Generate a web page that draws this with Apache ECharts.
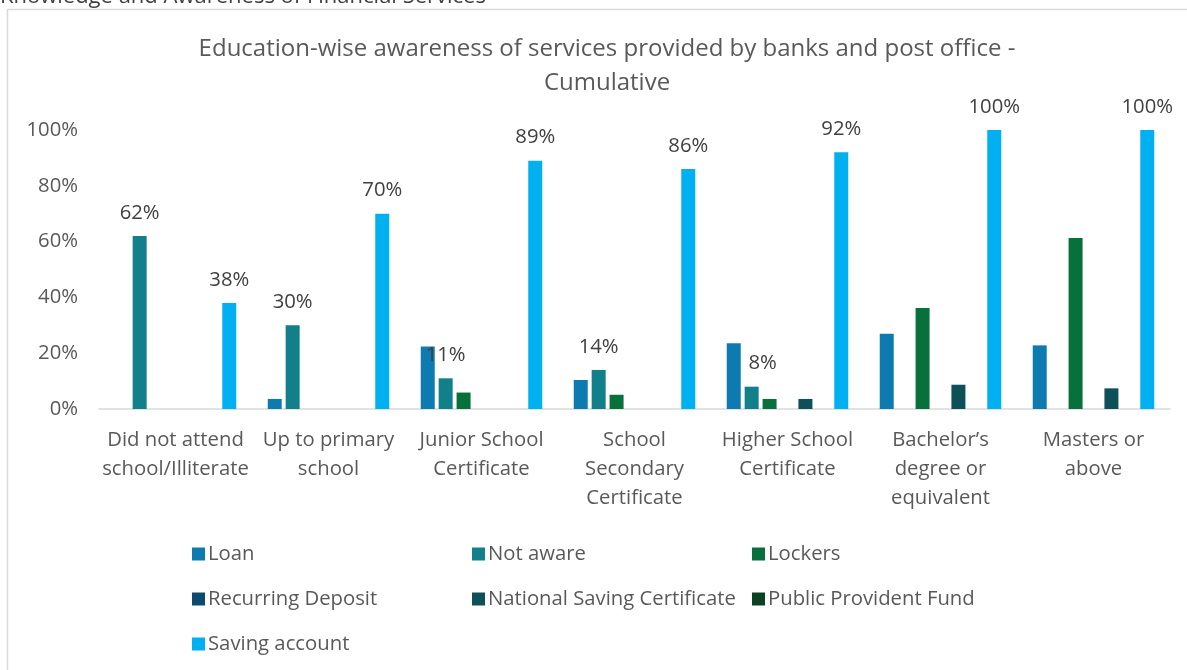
<!DOCTYPE html>
<html>
<head>
<meta charset="utf-8">
<title>Education-wise awareness of services</title>
<script src="https://cdn.jsdelivr.net/npm/echarts@6/dist/echarts.min.js"></script>
<style>
  html, body { margin: 0; padding: 0; background: #ffffff; }
  #chart { width: 1187px; height: 670px; }
</style>
</head>
<body>
<div id="chart"></div>
<script>
// Education levels (x-axis categories)
const categories = [
  'Did not attend\nschool/Illiterate',
  'Up to primary\nschool',
  'Junior School\nCertificate',
  'School\nSecondary\nCertificate',
  'Higher School\nCertificate',
  'Bachelor\u2019s\ndegree or\nequivalent',
  'Masters or\nabove'
];

// Share of respondents aware of each service (%)
const loan                 = [0, 3.6, 22.4, 10.4, 23.6, 27.0, 22.8];
const notAware             = [62, 30, 11, 14, 8, 0, 0];
const lockers              = [0, 0, 5.9, 5.1, 3.6, 36.2, 61.3];
const recurringDeposit     = [0, 0, 0, 0, 0, 0, 0];
const nationalSavingCert   = [0, 0, 0, 0, 3.6, 8.7, 7.4];
const publicProvidentFund  = [0, 0, 0, 0, 0, 0, 0];
const savingAccount        = [38, 70, 89, 86, 92, 100, 100];

const yTicks = [0, 20, 40, 60, 80, 100];

const FONT = '"Open Sans", Lato, sans-serif';
const GREY = '#595959';
const TEXT_SIZE = 20.3;

const seriesDefs = [
  { name: 'Loan', data: loan, color: '#0E7BB0', labels: false },
  { name: 'Not aware', data: notAware, color: '#12808A', labels: true },
  { name: 'Lockers', data: lockers, color: '#07703B', labels: false },
  { name: 'Recurring Deposit', data: recurringDeposit, color: '#0C4A6E', labels: false },
  { name: 'National Saving Certificate', data: nationalSavingCert, color: '#0E5058', labels: false },
  { name: 'Public Provident Fund', data: publicProvidentFund, color: '#0A4323', labels: false },
  { name: 'Saving account', data: savingAccount, color: '#00B0F0', labels: true }
];

// the "8%" label sits a little right of its bar so it clears the Loan bar
const labelShift = { 'Not aware': { 4: [11, 0] } };

const series = seriesDefs.map(s => ({
  name: s.name,
  type: 'bar',
  data: s.data.map((v, i) => {
    const shift = labelShift[s.name] && labelShift[s.name][i];
    return shift ? { value: v, label: { offset: shift } } : v;
  }),
  barWidth: 14,
  barGap: '28%',
  itemStyle: { color: s.color },
  label: {
    show: s.labels,
    position: 'top',
    distance: 13,
    fontFamily: FONT,
    fontSize: TEXT_SIZE,
    color: '#404040',
    formatter: p => (p.value > 0 ? Math.round(p.value) + '%' : '')
  }
}));

const legendBase = {
  orient: 'vertical',
  icon: 'rect',
  itemWidth: 13,
  itemHeight: 13,
  itemGap: 25,
  top: 539,
  textStyle: { fontFamily: FONT, fontSize: TEXT_SIZE, color: GREY, padding: [0, 0, 0, -2] }
};

const chart = echarts.init(document.getElementById('chart'), null, { renderer: 'canvas' });

chart.setOption({
  backgroundColor: '#ffffff',
  animation: false,
  title: {
    text: 'Education-wise awareness of services provided by banks and post office -\nCumulative',
    left: 602,
    textAlign: 'center',
    top: 27,
    textStyle: { fontFamily: FONT, fontSize: 24, fontWeight: 'normal', color: GREY, lineHeight: 34 }
  },
  graphic: [
    {
      type: 'rect',
      shape: { x: 7.5, y: 9.5, width: 1200, height: 700 },
      style: { fill: 'none', stroke: '#d9d9d9', lineWidth: 1.5 },
      silent: true
    },
    {
      type: 'text',
      left: 0,
      top: -14,
      style: { text: 'Knowledge and Awareness of Financial Services', font: '22px ' + FONT, fill: '#404040' },
      silent: true
    }
  ],
  legend: [
    Object.assign({}, legendBase, { left: 187, data: ['Loan', 'Recurring Deposit', 'Saving account'] }),
    Object.assign({}, legendBase, { left: 467, data: ['Not aware', 'National Saving Certificate'] }),
    Object.assign({}, legendBase, { left: 747, data: ['Lockers', 'Public Provident Fund'] })
  ],
  grid: { left: 99, right: 17, top: 130, bottom: 261, containLabel: false },
  xAxis: {
    type: 'category',
    data: categories,
    axisLine: { lineStyle: { color: '#d9d9d9', width: 1.5 } },
    axisTick: { show: false },
    axisLabel: {
      interval: 0,
      margin: 17,
      fontFamily: FONT,
      fontSize: TEXT_SIZE,
      lineHeight: 29,
      color: GREY
    }
  },
  yAxis: {
    type: 'value',
    min: yTicks[0],
    max: yTicks[yTicks.length - 1],
    interval: yTicks[1] - yTicks[0],
    axisLine: { show: false },
    axisTick: { show: false },
    splitLine: { show: false },
    axisLabel: {
      margin: 21,
      fontFamily: FONT,
      fontSize: TEXT_SIZE,
      color: GREY,
      formatter: '{value}%'
    }
  },
  series: series
});
</script>
</body>
</html>
